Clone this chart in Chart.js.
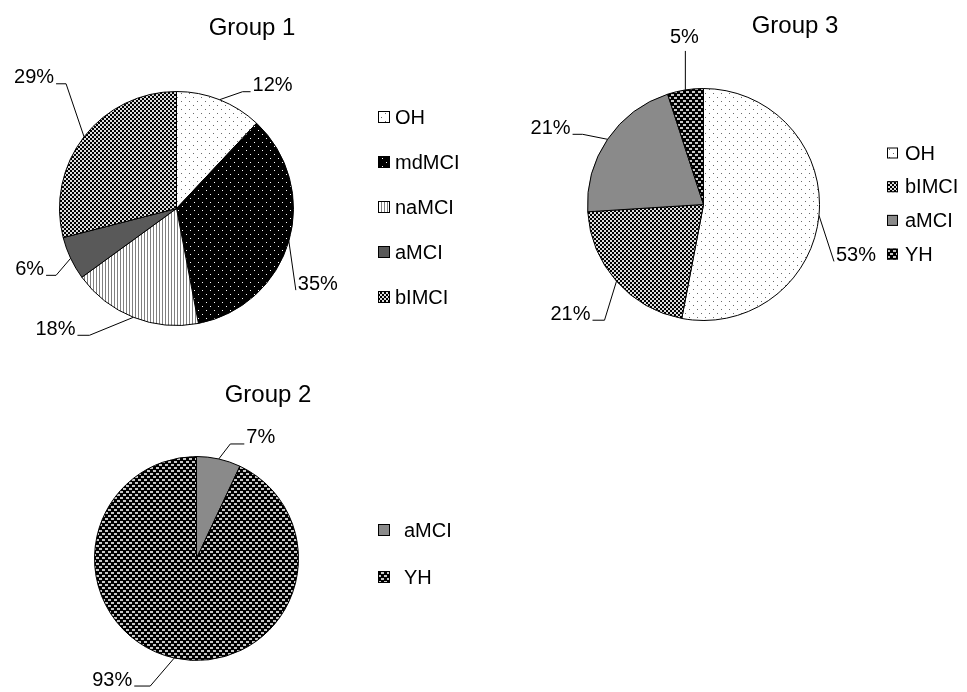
<!DOCTYPE html>
<html>
<head>
<meta charset="utf-8">
<script src="https://cdn.jsdelivr.net/npm/chart.js@4.4.1/dist/chart.umd.min.js"></script>
<style>
  html, body { margin: 0; padding: 0; background: #fff; width: 967px; height: 692px; overflow: hidden; }
  canvas { position: absolute; }
</style>
</head>
<body>
<canvas id="c1" width="500" height="370" style="left:0px;top:0px;width:500px;height:370px"></canvas>
<canvas id="c3" width="467" height="370" style="left:500px;top:0px;width:467px;height:370px"></canvas>
<canvas id="c2" width="500" height="322" style="left:0px;top:370px;width:500px;height:322px"></canvas>
<script>
// ---- Data ----
const g1Title = 'Group 1';
const g1Labels = ['OH', 'mdMCI', 'naMCI', 'aMCI', 'bIMCI'];
const g1Values = [12, 35, 18, 6, 29];

const g2Title = 'Group 2';
const g2Labels = ['aMCI', 'YH'];
const g2Values = [7, 93];

const g3Title = 'Group 3';
const g3Labels = ['OH', 'bIMCI', 'aMCI', 'YH'];
const g3Values = [53, 21, 21, 5];

// ---- Patterns ----
function makeTile(w, h, bg, draw) {
  const c = document.createElement('canvas');
  c.width = w; c.height = h;
  const x = c.getContext('2d');
  x.fillStyle = bg; x.fillRect(0, 0, w, h);
  draw(x);
  return x.createPattern(c, 'repeat');
}
const patterns = {
  OH: makeTile(8, 8, '#ffffff', x => { x.fillStyle = '#6a6a6a'; x.fillRect(1, 1, 1, 1); x.fillRect(5, 5, 1, 1); }),
  mdMCI: makeTile(8, 8, '#000000', x => { x.fillStyle = '#ffffff'; x.fillRect(2, 2, 1, 1); x.fillRect(6, 6, 1, 1); }),
  naMCI: makeTile(3, 1, '#ffffff', x => { x.fillStyle = '#808080'; x.fillRect(0, 0, 1, 1); }),
  aMCIdark: '#595959',
  aMCI: '#8a8a8a',
  bIMCI: makeTile(4, 4, '#dedede', x => { x.fillStyle = '#000000'; x.fillRect(0, 0, 2, 2); x.fillRect(2, 2, 2, 2); }),
  YH: makeTile(6, 6, '#000000', x => { x.fillStyle = '#c8c8c8'; x.fillRect(0, 1, 3, 2); x.fillRect(3, 4, 3, 2); })
};

const FONT = '"Liberation Sans", Arial, sans-serif';

// ---- Plugin factory: title, outside labels with leader lines, legend ----
function decorations(cfg) {
  return {
    id: 'decor',
    afterDraw(chart) {
      const ctx = chart.ctx;
      const ds = chart.data.datasets[0];
      const meta = chart.getDatasetMeta(0);
      const total = ds.data.reduce((a, b) => a + b, 0);
      ctx.save();
      // title
      ctx.fillStyle = '#000';
      ctx.font = '24px ' + FONT;
      ctx.textAlign = 'center';
      ctx.textBaseline = 'middle';
      ctx.fillText(cfg.title, cfg.titleX, cfg.titleY);

      // data labels
      ctx.font = '20px ' + FONT;
      ctx.strokeStyle = '#000';
      ctx.lineWidth = 1;
      meta.data.forEach((arc, i) => {
        const p = arc.getProps(['x', 'y', 'startAngle', 'endAngle', 'outerRadius'], true);
        const mid = (p.startAngle + p.endAngle) / 2;
        const ax = p.x + Math.cos(mid) * p.outerRadius;
        const ay = p.y + Math.sin(mid) * p.outerRadius;
        const lc = cfg.labels[i];
        const tx = ax + lc.dx, ty = ay + lc.dy;
        const text = Math.round(ds.data[i] / total * 100) + '%';
        const w = ctx.measureText(text).width;
        ctx.textAlign = 'center';
        ctx.fillText(text, tx, ty);
        ctx.beginPath();
        ctx.moveTo(ax, ay);
        if (lc.vertical) {
          ctx.lineTo(ax, ty + 13);
        } else {
          const right = lc.dx > 0;
          const ex = right ? tx - w / 2 - 2 : tx + w / 2 + 2;
          const ey = ty + 6;
          const bx = right ? ex - lc.elbow : ex + lc.elbow;
          ctx.lineTo(bx, ey);
          ctx.lineTo(ex, ey);
        }
        ctx.stroke();
      });

      // legend
      ctx.textAlign = 'left';
      chart.data.labels.forEach((lab, i) => {
        const cy = cfg.legend.y0 + i * cfg.legend.gap;
        const b = cfg.legend.box;
        ctx.fillStyle = ds.backgroundColor[i];
        ctx.fillRect(cfg.legend.x, cy - b / 2, b, b);
        ctx.lineWidth = 1;
        ctx.strokeStyle = '#000';
        ctx.strokeRect(cfg.legend.x + 0.5, cy - b / 2 + 0.5, b - 1, b - 1);
        ctx.fillStyle = '#000';
        ctx.fillText(lab, cfg.legend.textX, cy + 1);
      });
      ctx.restore();
    }
  };
}

function makePie(id, labels, values, colors, padding, cfg) {
  return new Chart(document.getElementById(id), {
    type: 'pie',
    data: {
      labels: labels,
      datasets: [{
        data: values,
        backgroundColor: colors,
        borderColor: '#000',
        borderWidth: 1
      }]
    },
    options: {
      responsive: false,
      animation: false,
      layout: { padding: padding },
      plugins: { legend: { display: false }, tooltip: { enabled: false }, title: { display: false } }
    },
    plugins: [decorations(cfg)]
  });
}

makePie('c1', g1Labels, g1Values,
  [patterns.OH, patterns.mdMCI, patterns.naMCI, patterns.aMCIdark, patterns.bIMCI],
  { left: 59, top: 91, right: 206, bottom: 44 },
  {
    title: g1Title, titleX: 252, titleY: 28,
    labels: [
      { dx: 53, dy: -14, elbow: 8 },
      { dx: 29, dy: 43, elbow: 0 },
      { dx: -78, dy: 12, elbow: 12 },
      { dx: -41, dy: 11, elbow: 10 },
      { dx: -50, dy: -59, elbow: 10 }
    ],
    legend: { x: 378, y0: 117, gap: 45, box: 12, textX: 395 }
  });

makePie('c3', g3Labels, g3Values,
  [patterns.OH, patterns.bIMCI, patterns.aMCI, patterns.YH],
  { left: 87, top: 88, right: 147, bottom: 49 },
  {
    title: g3Title, titleX: 295, titleY: 26,
    labels: [
      { dx: 37, dy: 40, elbow: 0 },
      { dx: -46, dy: 33, elbow: 12 },
      { dx: -57, dy: -11, elbow: 10 },
      { dx: -1, dy: -52, vertical: true }
    ],
    legend: { x: 387, y0: 153, gap: 33.7, box: 11, textX: 405 }
  });

makePie('c2', g2Labels, g2Values,
  [patterns.aMCI, patterns.YH],
  { left: 94, top: 86, right: 201, bottom: 31 },
  {
    title: g2Title, titleX: 268, titleY: 25,
    labels: [
      { dx: 42, dy: -21, elbow: 14 },
      { dx: -62, dy: 22, elbow: 16 }
    ],
    legend: { x: 378, y0: 160, gap: 47, box: 12, textX: 404 }
  });
</script>
</body>
</html>
